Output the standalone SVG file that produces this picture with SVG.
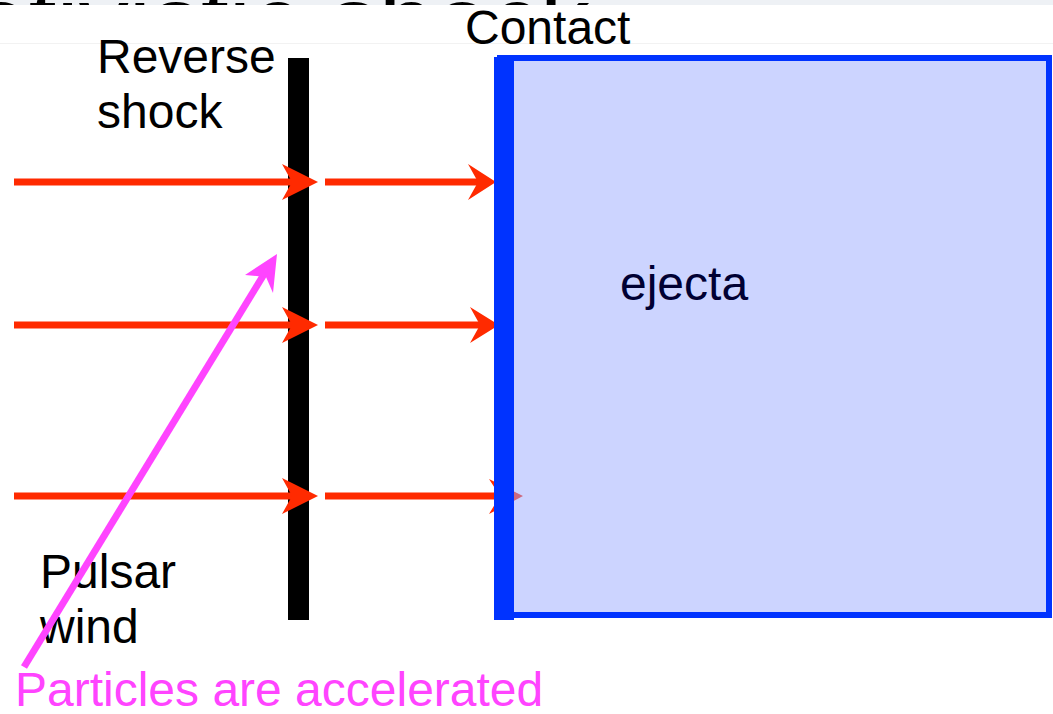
<svg xmlns="http://www.w3.org/2000/svg" width="1053" height="714" viewBox="0 0 1053 714">
<style>
text{font-family:"Liberation Sans",Arial,sans-serif;font-size:48px;}
.lbl{fill:#000;}
.red{stroke:#ff2a00;stroke-width:7;fill:none;}
.redhead{fill:#ff2a00;}
</style>
<defs>
<clipPath id="band"><rect x="0" y="0" width="1053" height="5"/></clipPath>
</defs>
<rect x="0" y="0" width="1053" height="714" fill="#fff"/>
<g id="title">
<rect x="0" y="0" width="1053" height="5" fill="#eef1f5"/>
<g clip-path="url(#band)">
<text x="590" y="56" text-anchor="end" style="font-size:100px" fill="#000">Relativistic shock</text>
</g>
<line x1="0" y1="43.5" x2="1053" y2="43.5" stroke="#f2f2f2" stroke-width="1"/>
</g>
<g id="reverse-shock">
<rect x="288" y="58" width="21" height="562" fill="#000"/>
<text class="lbl" x="97" y="73">Reverse</text>
<text class="lbl" x="97" y="128">shock</text>
</g>
<g id="connectors">
<line class="red" x1="14" y1="182" x2="292" y2="182"/>
<path class="redhead" d="M318,182 L282,164 L292,182 L282,200 Z"/>
<line class="red" x1="325" y1="182" x2="478" y2="182"/>
<path class="redhead" d="M496,182 L468,164 L478,182 L468,200 Z"/>
<line class="red" x1="14" y1="325" x2="292" y2="325"/>
<path class="redhead" d="M318,325 L282,307 L292,325 L282,343 Z"/>
<line class="red" x1="325" y1="325" x2="480" y2="325"/>
<path class="redhead" d="M499,325 L470,307 L480,325 L470,343 Z"/>
<line class="red" x1="14" y1="496" x2="292" y2="496"/>
<path class="redhead" d="M318,496 L282,478 L292,496 L282,514 Z"/>
<line class="red" x1="325" y1="496" x2="500" y2="496"/>
<path class="redhead" d="M523,496 L489,479 L500,496 L489,514 Z"/>
</g>
<g id="ejecta">
<rect x="500" y="58" width="549" height="557" fill="#99aaff" fill-opacity="0.5" stroke="#0033ff" stroke-width="6"/>
<rect x="494" y="57" width="20" height="563" fill="#0033ff"/>
<text x="620" y="300" fill="#000033">ejecta</text>
</g>
<g id="contact">
<text class="lbl" x="465" y="44">Contact</text>
</g>
<g id="pulsar-wind">
<text class="lbl" x="40" y="588">Pulsar</text>
<text class="lbl" x="40" y="643">wind</text>
</g>
<g id="particles">
<line x1="24" y1="667" x2="266" y2="271" stroke="#ff44ff" stroke-width="7"/>
<path d="M277,254 L245,275 L266,277 L273,293 Z" fill="#ff44ff"/>
<text x="15" y="706" fill="#ff44ff">Particles are accelerated</text>
</g>
</svg>
